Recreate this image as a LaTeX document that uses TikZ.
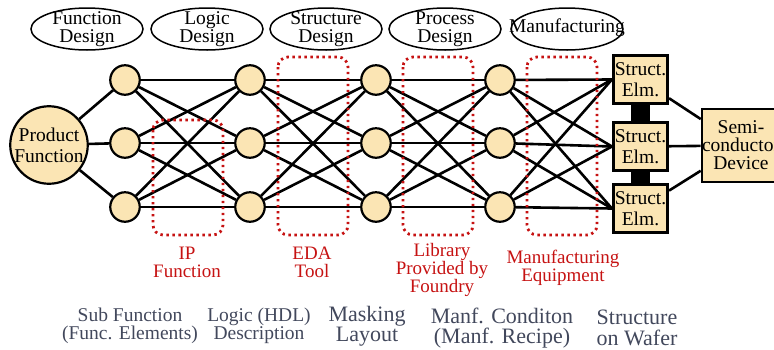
\documentclass[tikz,border=0pt]{standalone}
\usepackage{fontspec}
\setmainfont{Liberation Serif}
\newfontfamily\dfont{Liberation Serif}
\usetikzlibrary{shapes.geometric}
\pgfdeclarelayer{bg}
\pgfsetlayers{bg,main}
\definecolor{nodefill}{RGB}{251,229,180}
\definecolor{toolred}{RGB}{198,18,18}
\definecolor{notegray}{RGB}{66,72,92}

\tikzset{
  every node/.style={font=\dfont},
  phase/.style={draw, ellipse, line width=1.5pt, minimum width=112pt, minimum height=42pt, inner sep=0pt},
  phasetext/.style={align=center, font=\dfont\fontsize{19.5}{18}\selectfont, inner sep=0pt},
  elem/.style={draw, circle, fill=nodefill, line width=2.2pt, minimum size=29.5pt, inner sep=0pt},
  prod/.style={draw, circle, fill=nodefill, line width=2.2pt, minimum size=73.5pt, inner sep=0pt,
    align=center, font=\dfont\fontsize{19.5}{21}\selectfont},
  link/.style={line width=2.6pt},
  toolbox/.style={draw=toolred, line width=2.8pt, rounded corners=10pt, dash pattern=on 2.4pt off 3.6pt},
  tooltext/.style={text=toolred, align=center, font=\dfont\fontsize{19}{18}\selectfont, inner sep=0pt},
  structbox/.style={draw, fill=nodefill, line width=2.6pt, minimum width=54.5pt, minimum height=48.5pt,
    inner sep=0pt, align=center, font=\dfont\fontsize{19.5}{21}\selectfont},
  devbox/.style={draw, fill=nodefill, line width=2.6pt, minimum width=77pt, minimum height=73pt,
    inner sep=0pt, align=center, font=\dfont\fontsize{19.5}{18}\selectfont},
  notesmall/.style={text=notegray, align=center, font=\dfont\fontsize{19.5}{18}\selectfont, inner sep=0pt},
  notelarge/.style={text=notegray, align=center, font=\dfont\fontsize{22}{20.5}\selectfont, inner sep=0pt},
}

\begin{document}
\begin{tikzpicture}[x=1pt, y=-1pt]
\useasboundingbox (0,0) rectangle (774,349);

% design phases
\node[phase] (p1) at (87,29) {};
\node[phase] (p2) at (207,29) {};
\node[phase] (p3) at (326,29) {};
\node[phase] (p4) at (445,29) {};
\node[phase] (p5) at (567,29) {};
\node[phasetext] (t1) at (87,29) {Function\\Design};
\node[phasetext] (t2) at (207,29) {Logic\\Design};
\node[phasetext] (t3) at (326,29) {Structure\\Design};
\node[phasetext] (t4) at (445,29) {Process\\Design};
\node[phasetext] (t5) at (567,28) {Manufacturing};

% product function
\node[prod] (pf) at (49,145) {Product\\Function};

% element columns
\foreach \c/\x in {1/125, 2/250, 3/376, 4/500} {
  \foreach \r/\y in {1/80, 2/143, 3/207} {
    \node[elem] (c\c\r) at (\x,\y) {};
  }
}

% structural elements and device
\node[structbox] (s1) at (640.5,79.5) {Struct.\\Elm.};
\node[structbox] (s2) at (640.5,146.5) {Struct.\\Elm.};
\node[structbox] (s3) at (640.5,208.5) {Struct.\\Elm.};
\node[devbox] (dev) at (741,145.5) {Semi-\\conductor\\Device};

% tool labels
\node[tooltext] (l1) at (187,262) {IP\\Function};
\node[tooltext] (l2) at (312,262) {EDA\\Tool};
\node[tooltext] (l3) at (442,270) {Library\\Provided by\\Foundry};
\node[tooltext] (l4) at (563,268) {Manufacturing\\Equipment};

% description notes
\node[notesmall] (n1) at (130,326) {Sub Function\\(Func. Elements)};
\node[notesmall] (n2) at (259,326) {Logic (HDL)\\Description};
\node[notelarge] (n3) at (367,326) {Masking\\Layout};
\node[notelarge] (n4) at (502,328) {Manf. Conditon\\(Manf. Recipe)};
\node[notelarge] (n5) at (637,328) {Structure\\on Wafer};

\begin{pgfonlayer}{bg}
  % links
  \foreach \r in {1,2,3} { \draw[link] (pf) -- (c1\r); }
  \foreach \a/\b in {1/2, 2/3, 3/4} {
    \foreach \r in {1,2,3} {
      \foreach \s in {1,2,3} { \draw[link] (c\a\r) -- (c\b\s); }
    }
  }
  \foreach \r in {1,2,3} {
    \foreach \s in {1,2,3} { \draw[link] (c4\r) -- (s\s.west); }
  }
  \foreach \s in {1,2,3} { \draw[link] (s\s) -- (dev); }
  % bonding bars between structural elements
  \fill ([xshift=-9.5pt]s1.south) rectangle ([xshift=9.5pt]s2.north);
  \fill ([xshift=-9.5pt]s2.south) rectangle ([xshift=9.5pt]s3.north);
  % tool regions
  \draw[toolbox] (153,120) rectangle (223,235);
  \draw[toolbox] (278,57) rectangle (348,235);
  \draw[toolbox] (403,57) rectangle (473,235);
  \draw[toolbox] (527,57) rectangle (597,235);
\end{pgfonlayer}
\end{tikzpicture}
\end{document}
